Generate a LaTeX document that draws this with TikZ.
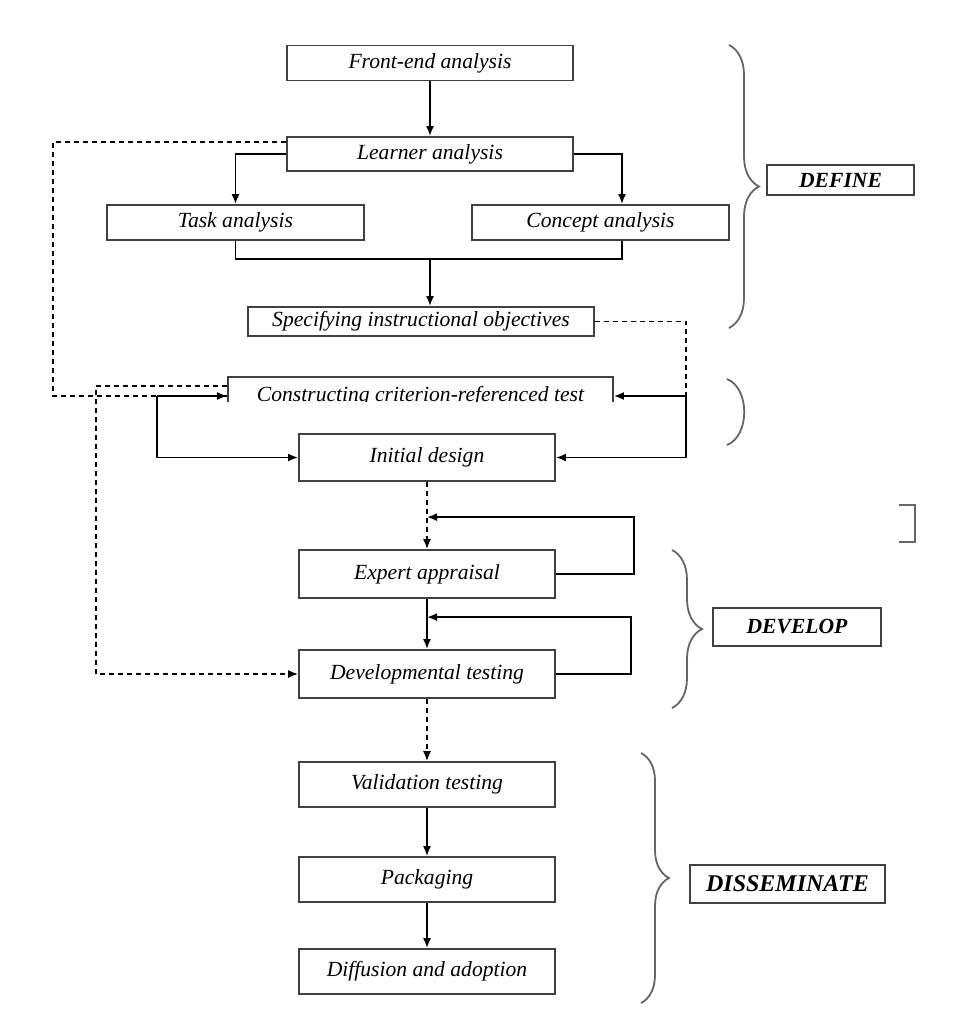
\documentclass[tikz,border=0pt]{standalone}
\usepackage{fontspec}
\setmainfont{Liberation Serif}
\usepackage{tikz}
\usetikzlibrary{arrows.meta,calc,decorations.pathreplacing}

\begin{document}
\begin{tikzpicture}[>={Latex[length=5pt,width=4pt]}, x=0.5pt, y=-0.5pt,
	box/.style={draw=black!75, line width=0.9pt, inner sep=0pt, font=\itshape\fontsize{10.8}{13}\selectfont},
	tag/.style={draw=black!75, line width=0.9pt, inner sep=0pt, font=\bfseries\itshape\fontsize{10.8}{13}\selectfont},
	link/.style={line width=0.9pt},
	dashlink/.style={line width=0.8pt, dash pattern=on 2.5pt off 2pt},
	curly/.style={draw=black!60, line width=0.9pt, decorate, decoration={brace, amplitude=15pt}}]
	%\draw [help lines, step=50] (0,0) grid (963,1012);
	\useasboundingbox (0,0) rectangle (963,1012);
	\node (front) [box, minimum width=143pt, minimum height=17.5pt] at (430,63) {Front-end analysis};
	\node (learner) [box, minimum width=143pt, minimum height=17pt] at (430,154) {Learner analysis};
	\node (task) [box, minimum width=128.5pt, minimum height=17.5pt] at (235.5,222.5) {Task analysis};
	\node (concept) [box, minimum width=128.5pt, minimum height=17.5pt] at (600.5,222.5) {Concept analysis};
	\node (spec) [box, minimum width=173pt, minimum height=14.5pt] at (421,321.5) {Specifying instructional objectives};
	\begin{scope}
		\clip (200,370) rectangle (640,401);
		\node (construct) [box, minimum width=192.5pt, minimum height=19pt] at (420.5,396) {Constructing criterion-referenced test};
	\end{scope}
	\node (init) [box, minimum width=128pt, minimum height=23.5pt] at (427,457.5) {Initial design};
	\node (expert) [box, minimum width=128pt, minimum height=24pt] at (427,574) {Expert appraisal};
	\node (devtest) [box, minimum width=128pt, minimum height=24pt] at (427,674) {Developmental testing};
	\node (valid) [box, minimum width=128pt, minimum height=22.5pt] at (427,784.5) {Validation testing};
	\node (pack) [box, minimum width=128pt, minimum height=22.5pt] at (427,879.5) {Packaging};
	\node (diffuse) [box, minimum width=128pt, minimum height=22.5pt] at (427,971.5) {Diffusion and adoption};
	% phase labels
	\node (define) [tag, minimum width=73.5pt, minimum height=15pt] at (840.5,180) {DEFINE};
	\node (develop) [tag, minimum width=84pt, minimum height=19pt] at (797,627) {DEVELOP};
	\node (dissem) [tag, font=\bfseries\itshape\fontsize{12}{14}\selectfont, minimum width=97.5pt, minimum height=19pt] at (787.5,884) {DISSEMINATE};
	\draw [curly] (729,45) -- (729,328);
	\draw [curly] (672,550) -- (672,708);
	\draw [curly, decoration={brace, amplitude=14pt}] (641,753) -- (641,1003);
	\draw [draw=black!60, line width=0.9pt] (727,379) .. controls (750,388) and (750,436) .. (727,445);
	\draw [draw=black!60, line width=0.9pt] (899,505) -- (915,505) -- (915,542) -- (899,542);
	% define
	\draw [->, link] (front) -- (learner);
	\draw [->, link] (learner.west) -| (task.north);
	\draw [->, link] (learner.east) -| ([xshift=10.75pt]concept.north);
	\coordinate (join) at (430,259);
	\draw [link] (task.south) |- (join) -| ([xshift=10.75pt]concept.south);
	\draw [->, link] (join) -- (join |- spec.north);
	\coordinate (farleft) at (53,396);
	\coordinate (midleft) at (96,674);
	\draw [dashlink] ([yshift=-3pt]learner.north west) -| (farleft) -- (construct.west);
	\draw [dashlink, ->] ([yshift=-5pt]construct.north west) -| (midleft) -- (devtest.west);
	\coordinate (loopl) at (157,396);
	\coordinate (loopr) at (686,396);
	\draw [->, link] (loopl) -- (construct.west);
	\draw [->, link] (loopl) |- (init.west);
	\draw [->, link] (loopr) -- (construct.east);
	\draw [->, link] (loopr) |- (init.east);
	\draw [dashlink] (spec.east) -| (loopr);
	% develop
	\draw [->, dashlink] (init) -- (expert);
	\draw [->, link] (expert.east) -- ++(78,0) |- ([yshift=16pt]expert.north);
	\draw [->, link] (expert) -- (devtest);
	\draw [->, link] (devtest.east) -- ++(75,0) |- ([yshift=16pt]devtest.north);
	% disseminate
	\draw [->, dashlink] (devtest) -- (valid);
	\draw [->, link] (valid) -- (pack);
	\draw [->, link] (pack) -- (diffuse);
\end{tikzpicture}
\end{document}
